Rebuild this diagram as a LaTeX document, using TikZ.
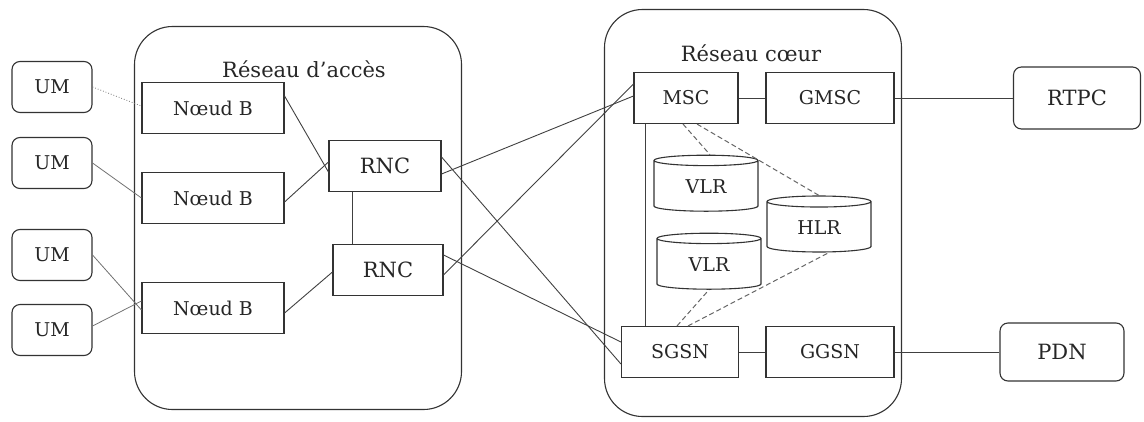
\documentclass[tikz,border=0pt]{standalone}
\usepackage{fontspec}
\setmainfont{DejaVu Serif}
\usetikzlibrary{shapes.geometric,positioning}

\begin{document}
\begin{tikzpicture}[x=1pt, y=-1pt, line width=1.1pt, draw=black!80,
    font=\fontsize{19}{22}\selectfont, text=black!85,
    zone/.style={draw, rounded corners=38pt},
    titre/.style={font=\fontsize{21}{24}\selectfont},
    um/.style={draw, rounded corners=8pt, minimum width=80pt, minimum height=51pt},
    equip/.style={draw, minimum height=51pt},
    base/.style={draw, cylinder, shape border rotate=90, aspect=0.22,
                 minimum width=104pt, minimum height=56pt},
    radio/.style={line width=0.8pt, black!55},
    lien/.style={line width=0.9pt, black!75},
    signal/.style={line width=1pt, black!60, dashed, dash pattern=on 5pt off 3pt}]
    \useasboundingbox (0,0) rectangle (1144,421);

    % les deux reseaux
    \node[zone, minimum width=327pt, minimum height=383pt] (acces) at (298,218) {};
    \node[zone, minimum width=297pt, minimum height=407pt] (coeur) at (753,213) {};
    \node[titre] (lacces) at (304,69) {Réseau d'accès};
    \node[titre] (lcoeur) at (751,53) {Réseau cœur};

    % terminaux
    \node[um] (um1) at (52,87)  {UM};
    \node[um] (um2) at (52,163) {UM};
    \node[um] (um3) at (52,255) {UM};
    \node[um] (um4) at (52,330) {UM};

    % reseau d'acces
    \node[equip, minimum width=142pt] (nb1) at (213,108) {Nœud B};
    \node[equip, minimum width=142pt] (nb2) at (213,198) {Nœud B};
    \node[equip, minimum width=142pt] (nb3) at (213,308) {Nœud B};
    \node[equip, minimum width=112pt, titre] (rnc1) at (385,166) {RNC};
    \node[equip, minimum width=110pt, titre] (rnc2) at (388,270) {RNC};

    % reseau coeur
    \node[equip, minimum width=104pt] (msc)  at (686,98)  {MSC};
    \node[equip, minimum width=128pt] (gmsc) at (830,98)  {GMSC};
    \node[equip, minimum width=117pt] (sgsn) at (680,352) {SGSN};
    \node[equip, minimum width=128pt] (ggsn) at (830,352) {GGSN};
    \node[base] (vlr1) at (706,187) {VLR};
    \node[base] (hlr)  at (819,228) {HLR};
    \node[base] (vlr2) at (709,265) {VLR};

    % reseaux externes
    \node[um, minimum width=127pt, minimum height=62pt, titre] (rtpc) at (1077,98) {RTPC};
    \node[um, minimum width=124pt, minimum height=58pt, titre] (pdn)  at (1062,352) {PDN};

    % liaisons radio
    \draw[radio, dotted] (um1.east) -- ([yshift=2pt]nb1.west);
    \draw[radio] (um2.east) -- (nb2.west);
    \draw[radio] (um3.east) -- ([yshift=-2pt]nb3.west);
    \draw[radio] ([yshift=4pt]um4.east) -- ([yshift=7pt]nb3.west);

    % acces
    \draw[lien] ([yshift=12pt]nb1.east) -- ([yshift=-6pt]rnc1.west);
    \draw[lien] ([yshift=-4pt]nb2.east) -- ([yshift=4pt]rnc1.west);
    \draw[lien] ([yshift=-5pt]nb3.east) -- ([yshift=-2pt]rnc2.west);
    \draw[lien] ([xshift=-33pt]rnc1.south) -- ([xshift=-36pt]rnc2.north);

    % acces vers coeur
    \draw[lien] ([yshift=-8pt]rnc1.east) -- ([yshift=2pt]msc.west);
    \draw[lien] ([yshift=9pt]rnc1.east) -- ([yshift=-12pt]sgsn.west);
    \draw[lien] ([yshift=-5pt]rnc2.east) -- ([yshift=14pt]msc.west);
    \draw[lien] ([yshift=15pt]rnc2.east) -- ([yshift=10pt]sgsn.west);

    % coeur
    \draw[lien] (msc) -- (gmsc);
    \draw[lien] (sgsn) -- (ggsn);
    \draw[lien] ([xshift=-41pt]msc.south) -- ([xshift=-35pt]sgsn.north);
    \draw[signal] ([xshift=-3pt]msc.south) -- ([xshift=4pt]vlr1.north);
    \draw[signal] ([xshift=11pt]msc.south) -- (hlr.north);
    \draw[signal] ([xshift=-3pt]sgsn.north) -- (vlr2.south);
    \draw[signal] ([xshift=8pt]sgsn.north) -- ([xshift=10pt]hlr.south);

    % sorties
    \draw[lien] (gmsc) -- (rtpc);
    \draw[lien] (ggsn) -- (pdn);
\end{tikzpicture}
\end{document}
